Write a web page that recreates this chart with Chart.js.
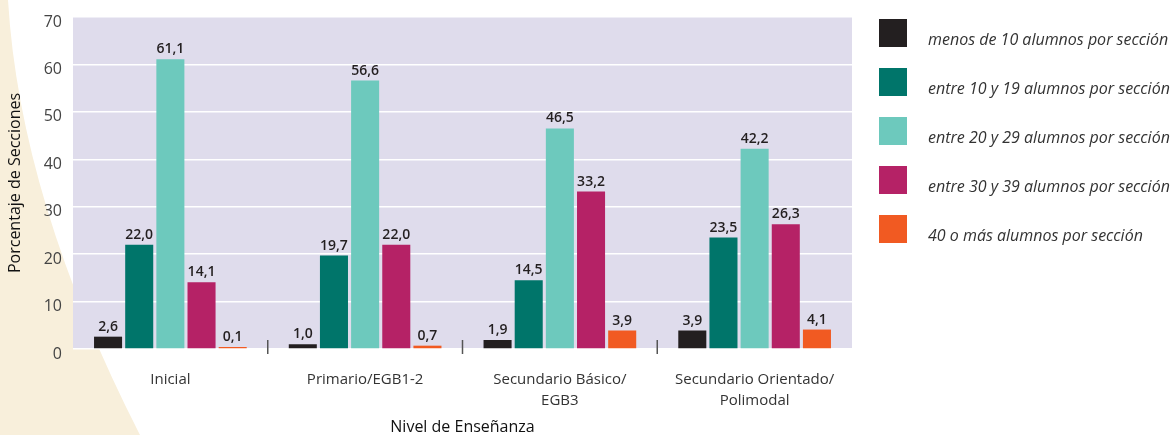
<!DOCTYPE html>
<html>
<head>
<meta charset="utf-8">
<script src="https://cdn.jsdelivr.net/npm/chart.js@4.4.0/dist/chart.umd.min.js"></script>
<style>
  html, body { margin: 0; padding: 0; background: #fff; }
  #wrap { width: 1176px; height: 435px; position: relative; }
</style>
</head>
<body>
<div id="wrap"><canvas id="chart"></canvas></div>
<script>
const niveles = [["Inicial"], ["Primario/EGB1-2"], ["Secundario Básico/", "EGB3"], ["Secundario Orientado/", "Polimodal"]];
const seriesLabels = [
  "menos de 10 alumnos por sección",
  "entre 10 y 19 alumnos por sección",
  "entre 20 y 29 alumnos por sección",
  "entre 30 y 39 alumnos por sección",
  "40 o más alumnos por sección"
];
const menos10 = [2.6, 1.0, 1.9, 3.9];
const entre10y19 = [22.0, 19.7, 14.5, 23.5];
const entre20y29 = [61.1, 56.6, 46.5, 42.2];
const entre30y39 = [14.1, 22.0, 33.2, 26.3];
const masDe40 = [0.1, 0.7, 3.9, 4.1];
const yTicks = [0, 10, 20, 30, 40, 50, 60, 70];

const colors = ["#231f20", "#00756a", "#6dc9bd", "#b52266", "#f15a22"];
const FONT = "'Open Sans', 'Noto Sans', sans-serif";

// beige curve + lavender plot background
const background = {
  id: "background",
  beforeDraw(chart) {
    const ctx = chart.ctx;
    const a = chart.chartArea;
    ctx.save();
    ctx.fillStyle = "#f8efdb";
    ctx.beginPath();
    ctx.moveTo(0, 0);
    ctx.lineTo(8, 0);
    ctx.quadraticCurveTo(20, 200, 140, 435);
    ctx.lineTo(0, 435);
    ctx.closePath();
    ctx.fill();
    ctx.fillStyle = "#dfdcec";
    ctx.fillRect(a.left, a.top, a.right - a.left, a.bottom - a.top);
    ctx.restore();
  }
};

// value labels, group separators and legend
const extras = {
  id: "extras",
  afterDatasetsDraw(chart) {
    const ctx = chart.ctx;
    ctx.save();
    ctx.font = "600 14px " + FONT;
    ctx.fillStyle = "#231f20";
    ctx.textAlign = "center";
    ctx.textBaseline = "alphabetic";
    chart.data.datasets.forEach((ds, i) => {
      chart.getDatasetMeta(i).data.forEach((bar, j) => {
        const txt = ds.data[j].toFixed(1).replace(".", ",");
        ctx.fillText(txt, bar.x, bar.y - 6);
      });
    });

    // small ticks between groups
    const x = chart.scales.x;
    const bottom = chart.chartArea.bottom;
    ctx.strokeStyle = "#555";
    ctx.lineWidth = 1.5;
    for (let i = 1; i < niveles.length; i++) {
      const px = (x.getPixelForValue(i - 1) + x.getPixelForValue(i)) / 2;
      ctx.beginPath();
      ctx.moveTo(px, bottom - 9);
      ctx.lineTo(px, bottom + 5);
      ctx.stroke();
    }
    ctx.restore();
  },
  afterDraw(chart) {
    const ctx = chart.ctx;
    ctx.save();
    ctx.font = "italic 16px " + FONT;
    ctx.textAlign = "left";
    ctx.textBaseline = "alphabetic";
    chart.data.datasets.forEach((ds, i) => {
      const top = 19 + i * 49;
      ctx.fillStyle = ds.backgroundColor;
      ctx.fillRect(879, top, 28, 28);
      ctx.fillStyle = "#333";
      ctx.fillText(ds.label, 928, top + 26);
    });
    ctx.restore();
  }
};

const values = [menos10, entre10y19, entre20y29, entre30y39, masDe40];

new Chart(document.getElementById("chart"), {
  type: "bar",
  data: {
    labels: niveles,
    datasets: values.map((v, i) => ({
      label: seriesLabels[i],
      data: v,
      backgroundColor: colors[i],
      categoryPercentage: 0.8,
      barPercentage: 0.9,
      minBarLength: 2
    }))
  },
  options: {
    responsive: true,
    maintainAspectRatio: false,
    animation: false,
    layout: { padding: { top: 17, right: 324, bottom: 0, left: 0 } },
    plugins: {
      legend: { display: false },
      tooltip: { enabled: false }
    },
    scales: {
      x: {
        grid: { display: false, drawTicks: false },
        border: { display: false },
        ticks: {
          color: "#333",
          padding: 20,
          font: { family: FONT, size: 15, lineHeight: 1.4 }
        },
        title: {
          display: true,
          text: "Nivel de Enseñanza",
          color: "#111",
          padding: 0,
          font: { family: FONT, size: 16, lineHeight: 1.0 }
        },
        afterFit(scale) {
          scale.height = 86;
          scale.paddingLeft = 0;
          scale.paddingRight = 0;
        }
      },
      y: {
        min: 0,
        max: 70,
        afterBuildTicks(scale) { scale.ticks = yTicks.map(v => ({ value: v })); },
        grid: { color: "#ffffff", lineWidth: 1.5, drawTicks: false },
        border: { display: false },
        ticks: {
          color: "#444",
          padding: 11,
          labelOffset: 5,
          font: { family: FONT, size: 16 }
        },
        title: {
          display: true,
          text: "Porcentaje de Secciones",
          color: "#111",
          padding: { top: 6, bottom: 0 },
          font: { family: FONT, size: 16 }
        },
        afterFit(scale) {
          scale.width = 73;
          scale.paddingTop = 0;
          scale.paddingBottom = 0;
        }
      }
    }
  },
  plugins: [background, extras]
});
</script>
</body>
</html>
